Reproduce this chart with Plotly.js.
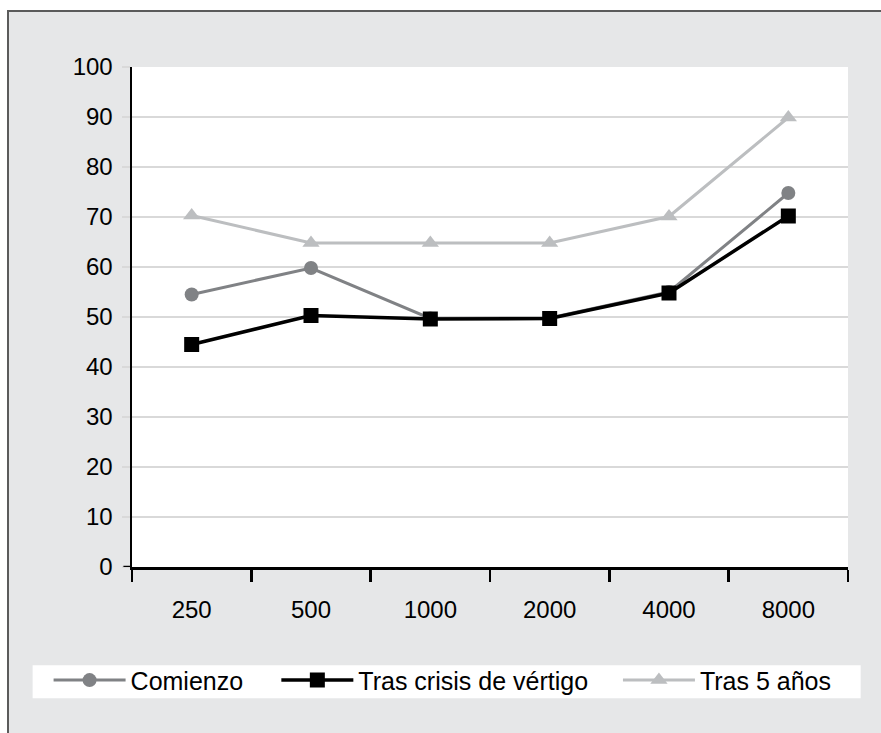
<!DOCTYPE html>
<html>
<head>
<meta charset="utf-8">
<script src="https://cdn.plot.ly/plotly-3.0.1.min.js"></script>
<style>
  html, body { margin: 0; padding: 0; background: #ffffff; }
  #frame { position: absolute; left: 7px; top: 10px; width: 874px; height: 723px;
           border-left: 2px solid #5b5b5b; border-top: 2px solid #5b5b5b; }
  #chart { width: 872px; height: 721px; }
</style>
</head>
<body>
<div id="frame"><div id="chart"></div></div>
<script>
const frequencies = ['250', '500', '1000', '2000', '4000', '8000'];
const comienzo = [54.5, 59.8, 49.7, 49.8, 55.0, 74.8];
const trasCrisis = [44.5, 50.3, 49.6, 49.7, 54.8, 70.2];
const tras5Anos = [70.3, 64.8, 64.8, 64.8, 70.1, 89.9];
const seriesNames = ['Comienzo', 'Tras crisis de vértigo', 'Tras 5 años'];
const yTicks = [0, 10, 20, 30, 40, 50, 60, 70, 80, 90, 100];

const traces = [
  { x: frequencies, y: comienzo, name: seriesNames[0], type: 'scatter', mode: 'lines+markers', legend: 'legend',
    line: { color: '#808285', width: 3 }, marker: { symbol: 'circle', size: 14, color: '#808285' } },
  { x: frequencies, y: trasCrisis, name: seriesNames[1], type: 'scatter', mode: 'lines+markers', legend: 'legend2',
    line: { color: '#000000', width: 3.5 }, marker: { symbol: 'square', size: 15, color: '#000000' } },
  { x: frequencies, y: tras5Anos, name: seriesNames[2], type: 'scatter', mode: 'lines+markers', legend: 'legend3',
    line: { color: '#bcbec0', width: 3 }, marker: { symbol: 'triangle-up', size: 15, color: '#bcbec0' } }
];

function legendAt(x) {
  return {
    orientation: 'h', x: x, xanchor: 'left', y: -0.1807, yanchor: 'top',
    bgcolor: 'rgba(0,0,0,0)', font: { size: 25, color: '#000000' }, itemwidth: 72
  };
}

const layout = {
  width: 872, height: 721,
  paper_bgcolor: '#e6e7e8', plot_bgcolor: '#ffffff',
  font: { family: 'Liberation Sans, Arial, sans-serif', size: 24, color: '#000000' },
  margin: { l: 122.5, r: 32.7, t: 54.7, b: 165.5, autoexpand: false },
  showlegend: true,
  legend: legendAt(-0.1165),
  legend2: legendAt(0.2016),
  legend3: legendAt(0.6787),
  xaxis: {
    type: 'category', range: [-0.5, 5.5], showgrid: false,
    showline: true, linecolor: '#000000', linewidth: 2.5,
    ticks: 'outside', tickson: 'boundaries', ticklen: 12, tickwidth: 2.5, tickcolor: '#000000',
    ticklabelstandoff: 20, tickfont: { size: 24 }, fixedrange: true
  },
  yaxis: {
    range: [0, 100], tickvals: yTicks, showgrid: true, gridcolor: '#d9d9d9', gridwidth: 1.5,
    zeroline: false, showline: true, linecolor: '#000000', linewidth: 2.5,
    ticks: 'outside', ticklen: 8, tickwidth: 1.5, tickcolor: '#d9d9d9',
    ticklabelstandoff: 4, tickfont: { size: 24 }, fixedrange: true
  },
  shapes: [
    { type: 'line', xref: 'paper', yref: 'y', x0: -0.012, x1: 0, y0: 0, y1: 0,
      line: { color: '#000000', width: 2.5 } },
    { type: 'rect', xref: 'paper', yref: 'paper', x0: -0.1388, x1: 1.0177, y0: -0.2626, y1: -0.1967,
      fillcolor: '#ffffff', line: { width: 0 }, layer: 'above' }
  ]
};

Plotly.newPlot('chart', traces, layout, { displayModeBar: false, staticPlot: true });
</script>
</body>
</html>
